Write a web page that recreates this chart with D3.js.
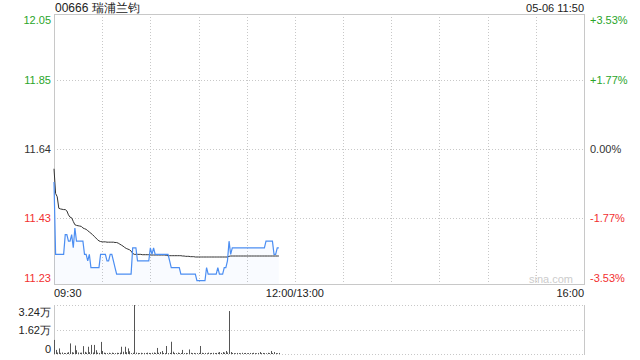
<!DOCTYPE html>
<html>
<head>
<meta charset="utf-8">
<script src="https://cdn.jsdelivr.net/npm/d3@7"></script>
<style>
  body { margin: 0; background: #fff; }
  text { font-family: Arial, "Liberation Sans", sans-serif; }
</style>
</head>
<body>
<svg id="chart" width="640" height="360"></svg>
<script>
  var title = "00666 瑞浦兰钧",
      stamp = "05-06 11:50",
      prevClose = 11.64;

  var priceTicks = [12.05, 11.85, 11.64, 11.43, 11.23],
      pctTicks = ["+3.53%", "+1.77%", "0.00%", "-1.77%", "-3.53%"],
      timeTicks = [0, 150, 330],
      timeLabels = ["09:30", "12:00/13:00", "16:00"],
      volTicks = [32400, 16200, 0],
      volLabels = ["3.24万", "1.62万", "0"];

  // one value per minute from 09:30
  var price = [
    11.54, 11.32, 11.32, 11.32, 11.32, 11.32, 11.32, 11.38, 11.38, 11.36,
    11.36, 11.38, 11.34, 11.40, 11.36, 11.36, 11.36, 11.36, 11.36, 11.32,
    11.32, 11.30, 11.32, 11.28, 11.28, 11.28, 11.28, 11.28, 11.28, 11.32,
    11.32, 11.32, 11.32, 11.30, 11.30, 11.32, 11.32, 11.30, 11.28, 11.26,
    11.26, 11.26, 11.26, 11.26, 11.26, 11.26, 11.26, 11.26, 11.26, 11.34,
    11.34, 11.34, 11.30, 11.30, 11.30, 11.30, 11.30, 11.30, 11.30, 11.30,
    11.34, 11.32, 11.34, 11.32, 11.32, 11.32, 11.32, 11.32, 11.32, 11.32,
    11.32, 11.32, 11.30, 11.28, 11.28, 11.28, 11.28, 11.28, 11.28, 11.26,
    11.26, 11.26, 11.26, 11.26, 11.26, 11.26, 11.26, 11.26, 11.26, 11.24,
    11.24, 11.24, 11.24, 11.24, 11.24, 11.28, 11.26, 11.26, 11.26, 11.26,
    11.26, 11.26, 11.28, 11.26, 11.26, 11.26, 11.28, 11.28, 11.30, 11.36,
    11.32, 11.34, 11.34, 11.34, 11.34, 11.34, 11.34, 11.34, 11.34, 11.34,
    11.34, 11.34, 11.34, 11.34, 11.34, 11.34, 11.34, 11.34, 11.34, 11.34,
    11.34, 11.34, 11.36, 11.36, 11.36, 11.36, 11.36, 11.32, 11.32, 11.34,
    11.34
  ];

  var avg = [
    11.58, 11.505, 11.495, 11.46, 11.458, 11.457, 11.456, 11.456, 11.452, 11.44,
    11.433, 11.431, 11.42, 11.41, 11.408, 11.407, 11.406, 11.405, 11.40, 11.398,
    11.396, 11.392, 11.388, 11.384, 11.38, 11.375, 11.37, 11.365, 11.361, 11.359,
    11.358, 11.358, 11.358, 11.357, 11.357, 11.357, 11.357, 11.357, 11.356, 11.356,
    11.354, 11.351, 11.348, 11.345, 11.341, 11.338, 11.336, 11.334, 11.33, 11.323,
    11.32, 11.32, 11.32, 11.32, 11.32, 11.319, 11.319, 11.319, 11.319, 11.319,
    11.318, 11.318, 11.318, 11.318, 11.318, 11.318, 11.318, 11.318, 11.318, 11.318,
    11.317, 11.316, 11.316, 11.316, 11.316, 11.316, 11.316, 11.316, 11.316, 11.316,
    11.315, 11.315, 11.314, 11.314, 11.314, 11.313, 11.313, 11.313, 11.312, 11.312,
    11.312, 11.312, 11.312, 11.312, 11.312, 11.312, 11.312, 11.312, 11.312, 11.312,
    11.312, 11.312, 11.312, 11.312, 11.312, 11.312, 11.312, 11.312, 11.312, 11.314,
    11.315, 11.315, 11.315, 11.315, 11.315, 11.315, 11.315, 11.315, 11.315, 11.315,
    11.315, 11.315, 11.315, 11.315, 11.315, 11.315, 11.315, 11.315, 11.315, 11.315,
    11.315, 11.315, 11.315, 11.315, 11.315, 11.315, 11.315, 11.315, 11.315, 11.315,
    11.315
  ];

  var volume = [
    9300, 2700, 1000, 3700, 800, 1000, 700, 600, 800, 1200,
    7000, 1200, 900, 5600, 2500, 1000, 800, 900, 5200, 1400,
    900, 4800, 1200, 6000, 1000, 6000, 2500, 900, 700, 8000,
    2000, 900, 700, 600, 800, 500, 900, 700, 600, 800,
    700, 900, 4800, 1500, 4800, 1200, 3700, 1800, 600, 800,
    32400, 900, 700, 600, 800, 500, 700, 600, 900, 700,
    600, 800, 1000, 700, 4000, 800, 1300, 2000, 700, 600,
    5300, 600, 700, 8100, 1500, 700, 600, 900, 600, 700,
    2700, 600, 700, 500, 3000, 800, 600, 700, 500, 600,
    700, 5300, 800, 600, 700, 500, 900, 600, 700, 800,
    600, 700, 900, 1300, 700, 1300, 900, 2000, 1000, 28400,
    1300, 700, 600, 500, 700, 600, 500, 800, 600, 700,
    500, 600, 700, 600, 800, 600, 500, 700, 1300, 600,
    700, 600, 500, 800, 600, 2000, 700, 1300, 600, 500,
    700
  ];

  var svg = d3.select("#chart"),
      plot = {left: 54, right: 584, top: 14, bottom: 284},
      vol = {top: 305, bottom: 354};

  var x = d3.scaleLinear().domain([0, 330]).range([plot.left, plot.right]),
      y = d3.scaleLinear().domain([11.23, 12.05]).range([plot.bottom, plot.top]),
      yv = d3.scaleLinear().domain([0, 32400]).range([vol.bottom, vol.top]);

  var up = "#2aa52a", down = "#f23030", flat = "#333";
  function tone(v) { return v > prevClose ? up : v < prevClose ? down : flat; }

  // grid
  var grid = svg.append("g").attr("stroke", "#c8c8c8").attr("stroke-width", 1);

  grid.selectAll(".vgrid")
      .data(d3.range(30, 330, 30))
    .enter().append("line")
      .attr("x1", function(d) { return Math.round(x(d)) + 0.5; })
      .attr("x2", function(d) { return Math.round(x(d)) + 0.5; })
      .attr("y1", plot.top)
      .attr("y2", plot.bottom)
      .attr("stroke-dasharray", "1,2");

  grid.selectAll(".hgrid")
      .data(priceTicks.slice(1, -1))
    .enter().append("line")
      .attr("x1", plot.left)
      .attr("x2", plot.right)
      .attr("y1", function(d) { return Math.round(y(d)) + 0.5; })
      .attr("y2", function(d) { return Math.round(y(d)) + 0.5; })
      .attr("stroke-dasharray", "1,2");

  grid.append("rect")
      .attr("x", plot.left + 0.5)
      .attr("y", plot.top + 0.5)
      .attr("width", plot.right - plot.left)
      .attr("height", plot.bottom - plot.top)
      .attr("fill", "none");

  grid.selectAll(".vhgrid")
      .data(volTicks)
    .enter().append("line")
      .attr("x1", plot.left)
      .attr("x2", plot.right)
      .attr("y1", function(d) { return Math.round(yv(d)) + 0.5; })
      .attr("y2", function(d) { return Math.round(yv(d)) + 0.5; })
      .attr("stroke-dasharray", "1,2");

  grid.selectAll(".vside")
      .data([plot.left, plot.right])
    .enter().append("line")
      .attr("x1", function(d) { return d + 0.5; })
      .attr("x2", function(d) { return d + 0.5; })
      .attr("y1", vol.top)
      .attr("y2", vol.bottom + 1);

  // watermark
  svg.append("text")
      .attr("x", 573)
      .attr("y", 283)
      .attr("text-anchor", "end")
      .attr("font-size", 11)
      .attr("fill", "#ccc")
      .text("sina.com");

  // price area + lines
  var area = d3.area()
      .x(function(d, i) { return x(i); })
      .y0(plot.bottom)
      .y1(function(d) { return y(d); });

  var line = d3.line()
      .x(function(d, i) { return x(i); })
      .y(function(d) { return y(d); });

  svg.append("path")
      .datum(price)
      .attr("fill", "rgba(76,142,245,0.035)")
      .attr("d", area);

  svg.append("path")
      .datum(avg)
      .attr("fill", "none")
      .attr("stroke", "#333")
      .attr("stroke-width", 1)
      .attr("d", line);

  svg.append("path")
      .datum(price)
      .attr("fill", "none")
      .attr("stroke", "#4c8ef2")
      .attr("stroke-width", 1.2)
      .attr("d", line);

  // volume bars
  svg.append("g").selectAll("rect")
      .data(volume)
    .enter().append("rect")
      .attr("x", function(d, i) { return Math.round(x(i)); })
      .attr("y", function(d) { return yv(d); })
      .attr("width", 1)
      .attr("height", function(d) { return vol.bottom - yv(d); })
      .attr("fill", "#555");

  // labels
  function shift(i, n) { return i === 0 ? 6 : i === n - 1 ? -6 : 0; }

  svg.append("g").selectAll("text")
      .data(priceTicks)
    .enter().append("text")
      .attr("x", 51)
      .attr("y", function(d, i) { return y(d) + shift(i, priceTicks.length); })
      .attr("dy", "0.35em")
      .attr("text-anchor", "end")
      .attr("font-size", 11)
      .attr("fill", tone)
      .text(function(d) { return d.toFixed(2); });

  svg.append("g").selectAll("text")
      .data(pctTicks)
    .enter().append("text")
      .attr("x", 590)
      .attr("y", function(d, i) { return y(priceTicks[i]) + shift(i, pctTicks.length); })
      .attr("dy", "0.35em")
      .attr("font-size", 11)
      .attr("fill", function(d, i) { return tone(priceTicks[i]); })
      .text(function(d) { return d; });

  svg.append("g").selectAll("text")
      .data(volTicks)
    .enter().append("text")
      .attr("x", 51)
      .attr("y", function(d, i) { return yv(d) + (i === 0 ? 7.5 : i === 2 ? -5 : 0.5); })
      .attr("dy", "0.35em")
      .attr("text-anchor", "end")
      .attr("font-size", 11)
      .attr("fill", "#222")
      .text(function(d, i) { return volLabels[i]; });

  svg.append("g").selectAll("text")
      .data(timeTicks)
    .enter().append("text")
      .attr("x", function(d) { return x(d); })
      .attr("y", 297)
      .attr("text-anchor", function(d, i) { return i === 0 ? "start" : i === 2 ? "end" : "middle"; })
      .attr("font-size", 11)
      .attr("fill", "#222")
      .text(function(d, i) { return timeLabels[i]; });

  svg.append("text")
      .attr("x", 55)
      .attr("y", 11.5)
      .attr("font-size", 12)
      .attr("fill", "#222")
      .text(title);

  svg.append("text")
      .attr("x", 584)
      .attr("y", 11.5)
      .attr("text-anchor", "end")
      .attr("font-size", 11)
      .attr("fill", "#222")
      .text(stamp);
</script>
</body>
</html>
